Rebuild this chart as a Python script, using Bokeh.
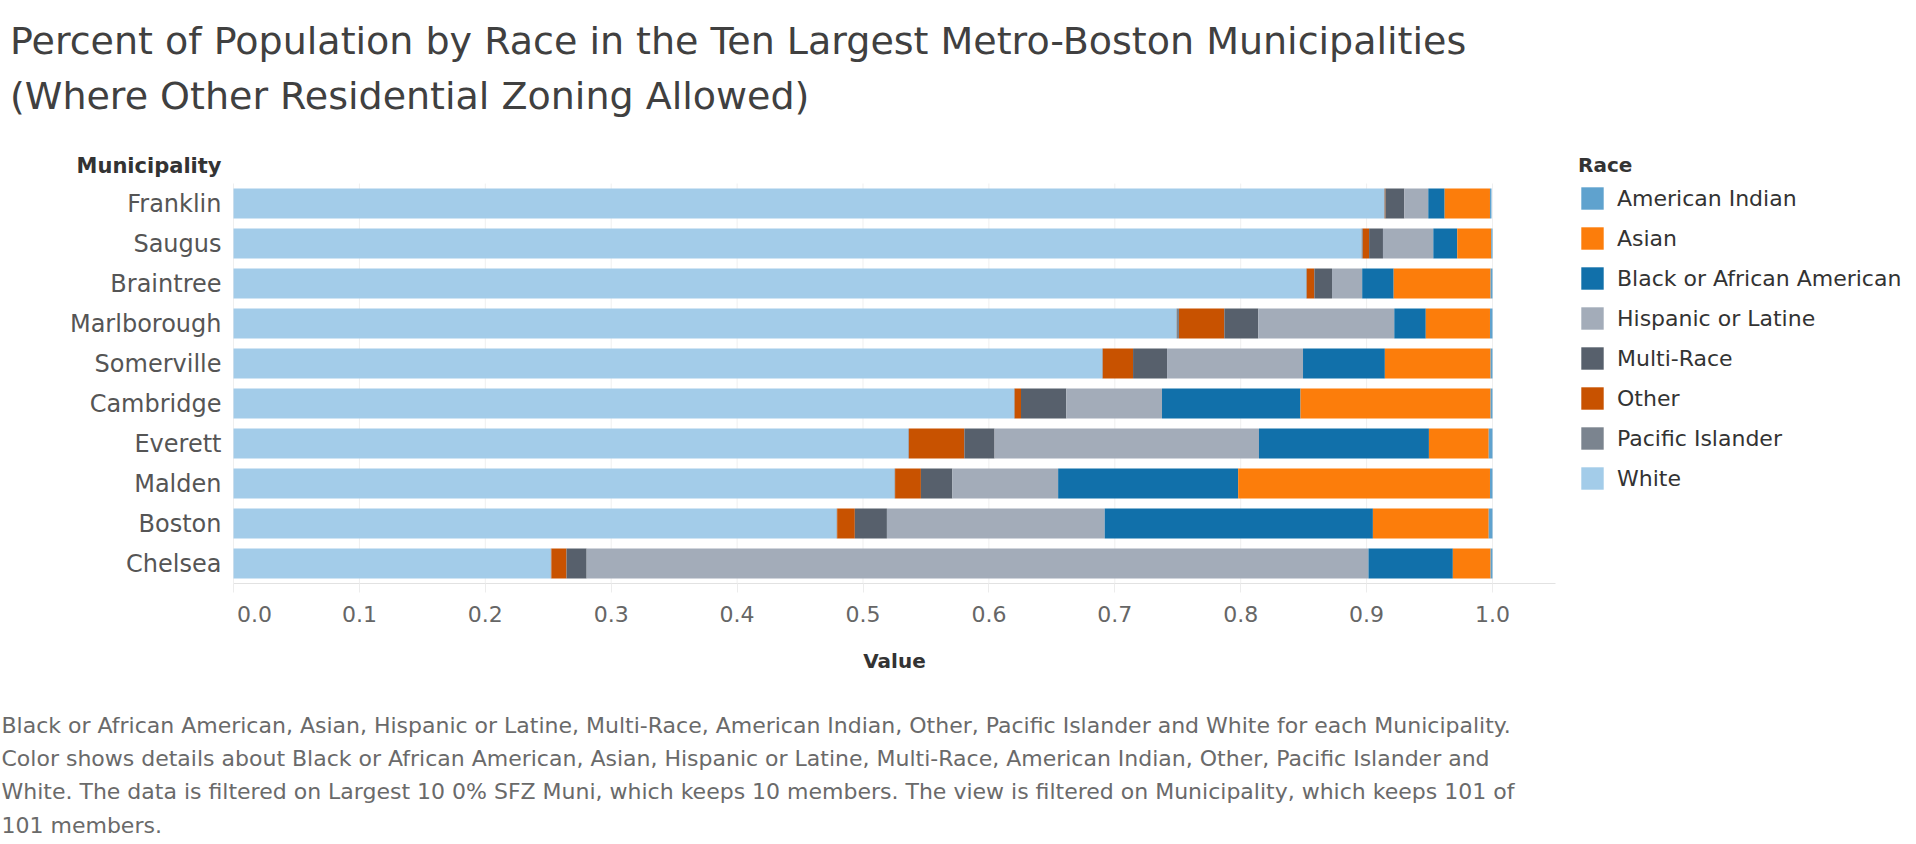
from bokeh.plotting import figure
from bokeh.models import (ColumnDataSource, Range1d, Legend, LegendItem,
                          Label, FixedTicker, PrintfTickFormatter)
from bokeh.embed import file_html
from bokeh.resources import INLINE

# ---------------- data ----------------
municipalities = ["Franklin", "Saugus", "Braintree", "Marlborough", "Somerville",
                  "Cambridge", "Everett", "Malden", "Boston", "Chelsea"]

white            = [0.914, 0.896, 0.852, 0.749, 0.690, 0.620, 0.536, 0.525, 0.479, 0.252]
pacific_islander = [0.0005, 0.001, 0.0005, 0.002, 0.0005, 0.0005, 0.0005, 0.0005, 0.0005, 0.0005]
other            = [0.0005, 0.005, 0.006, 0.036, 0.024, 0.005, 0.044, 0.0205, 0.014, 0.012]
multi_race       = [0.015, 0.011, 0.014, 0.027, 0.027, 0.036, 0.024, 0.025, 0.0255, 0.016]
hispanic         = [0.019, 0.040, 0.024, 0.108, 0.108, 0.076, 0.210, 0.084, 0.173, 0.621]
black            = [0.013, 0.019, 0.025, 0.025, 0.065, 0.110, 0.135, 0.143, 0.213, 0.067]
asian            = [0.036, 0.027, 0.077, 0.051, 0.084, 0.151, 0.0475, 0.200, 0.092, 0.030]
american_indian  = [0.0012, 0.001, 0.0015, 0.002, 0.0015, 0.0015, 0.003, 0.002, 0.003, 0.0015]

# stacking order (left to right) and legend order
stack_order = ["White", "Pacific Islander", "Other", "Multi-Race",
               "Hispanic or Latine", "Black or African American", "Asian", "American Indian"]
legend_order = ["American Indian", "Asian", "Black or African American", "Hispanic or Latine",
                "Multi-Race", "Other", "Pacific Islander", "White"]
race_colors = {
    "American Indian": "#5fa2ce",
    "Asian": "#fc7d0b",
    "Black or African American": "#1170aa",
    "Hispanic or Latine": "#a3acb9",
    "Multi-Race": "#57606c",
    "Other": "#c85200",
    "Pacific Islander": "#7b848f",
    "White": "#a3cce9",
}
x_ticks = [0.0, 0.1, 0.2, 0.3, 0.4, 0.5, 0.6, 0.7, 0.8, 0.9, 1.0]

title_lines = ["Percent of Population by Race in the Ten Largest Metro-Boston Municipalities",
               "(Where Other Residential Zoning Allowed)"]
footnote_lines = [
    "Black or African American, Asian, Hispanic or Latine, Multi-Race, American Indian, Other, Pacific Islander and White for each Municipality.",
    "Color shows details about Black or African American, Asian, Hispanic or Latine, Multi-Race, American Indian, Other, Pacific Islander and",
    "White. The data is filtered on Largest 10 0% SFZ Muni, which keeps 10 members. The view is filtered on Municipality, which keeps 101 of",
    "101 members.",
]

# row positions: first municipality on top
n = len(municipalities)
row_pos = [n - 1 - i for i in range(n)]

source = ColumnDataSource(data={
    "muni": municipalities,
    "row": row_pos,
    "White": white,
    "Pacific Islander": pacific_islander,
    "Other": other,
    "Multi-Race": multi_race,
    "Hispanic or Latine": hispanic,
    "Black or African American": black,
    "Asian": asian,
    "American Indian": american_indian,
})

# ---------------- geometry ----------------
W, H = 1916, 844
PX_PER_UNIT = 1259.0          # width of 0..1 on the value axis
ZERO_X = 233.0                # canvas x of value 0
ROW_PX = 40.0                 # pixels per row
LAST_ROW_Y = 563.0            # canvas y of the bottom row centre
FONT = "DejaVu Sans"

x_range = Range1d(-ZERO_X / PX_PER_UNIT, (W - ZERO_X) / PX_PER_UNIT)
y_range = Range1d(-(H - LAST_ROW_Y) / ROW_PX, LAST_ROW_Y / ROW_PX)

p = figure(width=W, height=H, output_backend="svg", toolbar_location=None,
           x_range=x_range, y_range=y_range,
           min_border=0, min_border_left=0, min_border_right=0,
           min_border_top=0, min_border_bottom=0)
p.outline_line_color = None
p.background_fill_color = "white"
p.border_fill_color = "white"
p.grid.visible = False

# light vertical gridlines at the value ticks, spanning the rows
p.segment(x0=x_ticks, x1=x_ticks, y0=[-0.5] * len(x_ticks), y1=[n - 0.5] * len(x_ticks),
          line_color="#efefef", line_width=1)

renderers = p.hbar_stack(stack_order, y="row", height=0.75, source=source,
                         fill_color=[race_colors[s] for s in stack_order],
                         line_color=None)
rmap = dict(zip(stack_order, renderers))

# value axis, pinned under the bottom row
xa = p.xaxis[0]
xa.fixed_location = -0.5
xa.bounds = (0, 1.05)
xa.ticker = FixedTicker(ticks=x_ticks)
xa.formatter = PrintfTickFormatter(format="%.1f")
xa.major_label_overrides = {0: ""}
xa.axis_line_color = "#e2e2e2"
xa.major_tick_line_color = "#ececec"
xa.major_tick_out = 9
xa.major_tick_in = 0
xa.minor_tick_line_color = None
xa.major_label_standoff = 13
xa.major_label_text_font = FONT
xa.major_label_text_font_size = "22px"
xa.major_label_text_color = "#666666"

# category axis, pinned at value 0
ya = p.yaxis[0]
ya.fixed_location = 0
ya.bounds = (-0.5, n - 0.5)
ya.ticker = FixedTicker(ticks=row_pos)
ya.major_label_overrides = {r: m for r, m in zip(row_pos, municipalities)}
ya.axis_line_color = None
ya.major_tick_line_color = None
ya.minor_tick_line_color = None
ya.major_label_standoff = 6
ya.major_label_text_font = FONT
ya.major_label_text_font_size = "24px"
ya.major_label_text_color = "#555555"


def add_text(text, px, py, size, color, align="left", style="normal", baseline="alphabetic"):
    # px, py: canvas pixels from the top-left corner
    p.add_layout(Label(x=px, y=H - py, x_units="screen", y_units="screen", text=text,
                       text_font=FONT, text_font_size=size, text_color=color,
                       text_align=align, text_baseline=baseline, text_font_style=style))


add_text(title_lines[0], 9.5, 40, "38px", "#404040")
add_text(title_lines[1], 9.5, 95, "38px", "#404040")
add_text("Municipality", 221, 165, "21px", "#333333", align="right", style="bold")
add_text("0.0", 236.5, 605, "22px", "#666666", baseline="top")
add_text("Value", 894, 660, "20px", "#333333", align="center", style="bold")
for i, line in enumerate(footnote_lines):
    add_text(line, 1, 724.5 + 33.4 * i, "22px", "#6a6a6a")

legend = Legend(
    items=[LegendItem(label=nm, renderers=[rmap[nm]]) for nm in legend_order],
    location=(1578, H - 492),
    orientation="vertical",
    title="Race",
    title_text_font=FONT, title_text_font_size="20px", title_text_font_style="bold",
    title_text_color="#333333", title_standoff=7,
    glyph_width=28, glyph_height=28, spacing=12, label_standoff=11,
    label_text_font=FONT, label_text_font_size="22px", label_text_color="#333333",
    padding=0, margin=0, border_line_color=None, background_fill_alpha=0,
)
p.add_layout(legend)

open("out.html", "w").write(file_html(p, INLINE))
